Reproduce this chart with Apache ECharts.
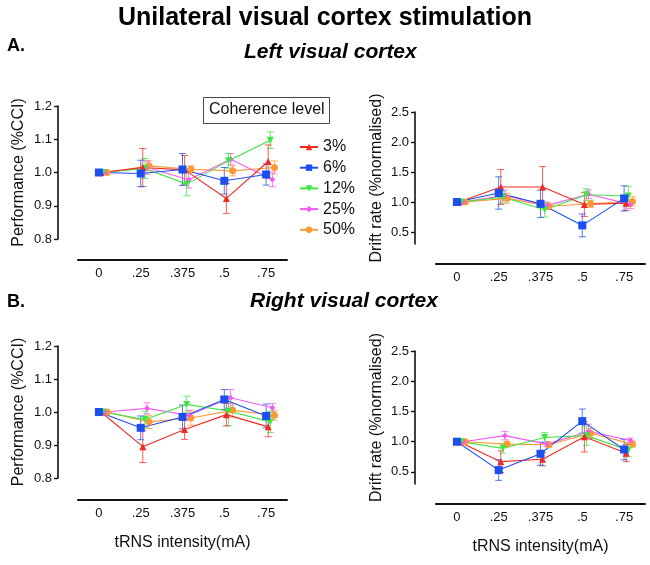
<!DOCTYPE html>
<html>
<head>
<meta charset="utf-8">
<script src="https://cdn.jsdelivr.net/npm/echarts@6/dist/echarts.min.js"></script>
<style>
html,body{margin:0;padding:0;background:#fff;}
#chart{width:650px;height:565px;}
</style>
</head>
<body>
<div id="chart"></div>
<script>
// ---------- DATA ----------
const categories = ['0', '.25', '.375', '.5', '.75'];
const seriesNames = ['3%', '6%', '12%', '25%', '50%'];
const perfTicks = [0.8, 0.9, 1.0, 1.1, 1.2];
const driftTicks = [0.5, 1.0, 1.5, 2.0, 2.5];

// A. Left visual cortex — Performance (%CCI)
const perfLeft3  = [1.0, 1.015, 1.008, 0.922, 1.033];
const perfLeft6  = [1.0, 0.997, 1.009, 0.975, 0.994];
const perfLeft12 = [1.0, 1.012, 0.965, 1.035, 1.097];
const perfLeft25 = [1.0, 1.015, 0.978, 1.040, 0.979];
const perfLeft50 = [1.0, 1.020, 1.010, 1.005, 1.015];
const perfLeftErr3  = [0, 0.057, 0.043, 0.045, 0.050];
const perfLeftErr6  = [0, 0.040, 0.048, 0.040, 0.032];
const perfLeftErr12 = [0, 0.030, 0.035, 0.022, 0.025];
const perfLeftErr25 = [0, 0.020, 0.025, 0.017, 0.022];
const perfLeftErr50 = [0, 0.015, 0.010, 0.015, 0.020];

// A. Left visual cortex — Drift rate (%normalised)
const driftLeft3  = [1.0, 1.25, 1.25, 0.96, 0.98];
const driftLeft6  = [1.0, 1.15, 0.97, 0.61, 1.06];
const driftLeft12 = [1.0, 1.08, 0.87, 1.12, 1.10];
const driftLeft25 = [1.0, 1.11, 0.94, 1.13, 0.96];
const driftLeft50 = [1.0, 1.06, 0.93, 0.97, 1.01];
const driftLeftErr3  = [0, 0.29, 0.34, 0.20, 0.12];
const driftLeftErr6  = [0, 0.27, 0.23, 0.19, 0.21];
const driftLeftErr12 = [0, 0.10, 0.12, 0.10, 0.16];
const driftLeftErr25 = [0, 0.09, 0.06, 0.07, 0.07];
const driftLeftErr50 = [0, 0.08, 0.05, 0.06, 0.08];

// B. Right visual cortex — Performance (%CCI)
const perfRight3  = [1.0, 0.895, 0.947, 0.992, 0.955];
const perfRight6  = [1.0, 0.952, 0.985, 1.038, 0.988];
const perfRight12 = [1.0, 0.977, 1.023, 1.003, 0.970];
const perfRight25 = [1.0, 1.011, 0.990, 1.043, 1.013];
const perfRight50 = [1.0, 0.970, 0.982, 1.005, 0.990];
const perfRightErr3  = [0, 0.048, 0.030, 0.034, 0.030];
const perfRightErr6  = [0, 0.036, 0.036, 0.030, 0.036];
const perfRightErr12 = [0, 0.025, 0.025, 0.045, 0.032];
const perfRightErr25 = [0, 0.017, 0.015, 0.025, 0.013];
const perfRightErr50 = [0, 0.020, 0.022, 0.020, 0.015];

// B. Right visual cortex — Drift rate (%normalised)
const driftRight3  = [1.0, 0.67, 0.71, 1.08, 0.81];
const driftRight6  = [1.0, 0.53, 0.80, 1.34, 0.87];
const driftRight12 = [1.0, 0.89, 1.07, 1.10, 0.86];
const driftRight25 = [1.0, 1.10, 0.96, 1.17, 1.02];
const driftRight50 = [1.0, 0.96, 0.95, 1.14, 0.96];
const driftRightErr3  = [0, 0.18, 0.11, 0.25, 0.14];
const driftRightErr6  = [0, 0.17, 0.19, 0.20, 0.17];
const driftRightErr12 = [0, 0.08, 0.08, 0.16, 0.11];
const driftRightErr25 = [0, 0.07, 0.04, 0.12, 0.04];
const driftRightErr50 = [0, 0.03, 0.04, 0.08, 0.05];

// ---------- STYLE ----------
const FONT = "'Liberation Sans', Arial, Helvetica, sans-serif";
const styles = {
  '3%':  {color: '#f02a22', symbol: 'triangle', size: 7, dx: 0.05},
  '6%':  {color: '#1d4ff0', symbol: 'rect', size: 8, dx: 0.0},
  '12%': {color: '#3ee640', symbol: 'path://M0,0 L10,0 L5,9 Z', size: 7, dx: 0.10},
  '25%': {color: '#f25af0', symbol: 'diamond', size: 6, dx: 0.15},
  '50%': {color: '#fa9a35', symbol: 'circle', size: 7, dx: 0.20}
};
const drawOrder = ['50%', '25%', '12%', '3%', '6%'];

const panels = [
  {grid: {left: 78, top: 106, width: 209, height: 133}, yMin: 0.8, yMax: 1.2, ticks: perfTicks,
   yName: 'Performance (%CCI)', yOffset: 20, xOffset: 21, xName: '', nameGap: 31,
   vals: [perfLeft3, perfLeft6, perfLeft12, perfLeft25, perfLeft50],
   errs: [perfLeftErr3, perfLeftErr6, perfLeftErr12, perfLeftErr25, perfLeftErr50]},
  {grid: {left: 436, top: 112, width: 209, height: 132}, yMin: 0.3, yMax: 2.5, ticks: driftTicks,
   yName: 'Drift rate (%normalised)', yOffset: 21, xOffset: 20, xName: '', nameGap: 30,
   vals: [driftLeft3, driftLeft6, driftLeft12, driftLeft25, driftLeft50],
   errs: [driftLeftErr3, driftLeftErr6, driftLeftErr12, driftLeftErr25, driftLeftErr50]},
  {grid: {left: 78, top: 346, width: 209, height: 132}, yMin: 0.8, yMax: 1.2, ticks: perfTicks,
   yName: 'Performance (%CCI)', yOffset: 20, xOffset: 22, xName: 'tRNS intensity(mA)', nameGap: 31,
   vals: [perfRight3, perfRight6, perfRight12, perfRight25, perfRight50],
   errs: [perfRightErr3, perfRightErr6, perfRightErr12, perfRightErr25, perfRightErr50]},
  {grid: {left: 436, top: 351, width: 209, height: 133}, yMin: 0.3, yMax: 2.5, ticks: driftTicks,
   yName: 'Drift rate (%normalised)', yOffset: 21, xOffset: 20, xName: 'tRNS intensity(mA)', nameGap: 30,
   vals: [driftRight3, driftRight6, driftRight12, driftRight25, driftRight50],
   errs: [driftRightErr3, driftRightErr6, driftRightErr12, driftRightErr25, driftRightErr50]}
];

const grids = [], xAxes = [], yAxes = [], series = [];
panels.forEach((p, pi) => {
  grids.push(p.grid);
  // visible category x axis
  xAxes.push({
    type: 'category', gridIndex: pi, data: categories, boundaryGap: true, offset: p.xOffset,
    axisLine: {onZero: false, lineStyle: {color: '#111', width: 2}},
    axisTick: {alignWithLabel: true, inside: true, length: 4, lineStyle: {color: '#111', width: 1.5}},
    axisLabel: {color: '#111', fontSize: 13, fontFamily: FONT, margin: 7},
    name: p.xName, nameLocation: 'middle', nameGap: 35,
    nameTextStyle: {color: '#111', fontSize: 16, fontFamily: FONT}
  });
  // hidden value x axis for dodged points
  xAxes.push({type: 'value', gridIndex: pi, min: -0.5, max: 4.5, show: false});
  yAxes.push({
    type: 'value', gridIndex: pi, min: p.yMin, max: p.yMax, offset: p.yOffset,
    splitLine: {show: false},
    axisLine: {show: true, onZero: false, lineStyle: {color: '#111', width: 1.6}},
    axisTick: {show: true, length: 4, customValues: p.ticks, lineStyle: {color: '#111', width: 1.4}},
    axisLabel: {color: '#111', fontSize: 13, fontFamily: FONT, margin: 6,
      customValues: p.ticks, formatter: v => v.toFixed(1)},
    name: p.yName, nameLocation: 'middle', nameGap: p.nameGap,
    nameTextStyle: {color: '#111', fontSize: 16, fontFamily: FONT}
  });
  const xIdx = pi * 2 + 1;
  drawOrder.forEach(name => {
    const si = seriesNames.indexOf(name);
    const st = styles[name];
    const vals = p.vals[si], errs = p.errs[si];
    series.push({
      type: 'custom', name: 'err' + name, xAxisIndex: xIdx, yAxisIndex: pi, clip: false, z: 2,
      data: vals.map((v, i) => [i + st.dx, v - errs[i], v + errs[i]]),
      renderItem: (params, api) => {
        const lo = api.coord([api.value(0), api.value(1)]);
        const hi = api.coord([api.value(0), api.value(2)]);
        const cw = 3.5;
        const style = {stroke: st.color, lineWidth: 1, opacity: 0.75};
        return {type: 'group', children: [
          {type: 'line', shape: {x1: lo[0], y1: lo[1], x2: hi[0], y2: hi[1]}, style},
          {type: 'line', shape: {x1: lo[0] - cw, y1: lo[1], x2: lo[0] + cw, y2: lo[1]}, style},
          {type: 'line', shape: {x1: hi[0] - cw, y1: hi[1], x2: hi[0] + cw, y2: hi[1]}, style}
        ]};
      },
      silent: true
    });
  });
  drawOrder.forEach(name => {
    const si = seriesNames.indexOf(name);
    const st = styles[name];
    series.push({
      type: 'line', name: name, xAxisIndex: xIdx, yAxisIndex: pi, clip: false, z: 3,
      data: p.vals[si].map((v, i) => [i + st.dx, v]),
      symbol: st.symbol, symbolSize: st.size, showSymbol: true,
      lineStyle: {color: st.color, width: 1.1},
      itemStyle: {color: st.color},
      animation: false
    });
  });
});

const chart = echarts.init(document.getElementById('chart'), null, {renderer: 'canvas'});
chart.setOption({
  animation: false,
  backgroundColor: '#ffffff',
  grid: grids,
  xAxis: xAxes,
  yAxis: yAxes,
  series: series,
  legend: {
    data: seriesNames, orient: 'vertical', left: 294, top: 134,
    itemWidth: 18, itemHeight: 8, itemGap: 4.7, selectedMode: false,
    textStyle: {color: '#111', fontSize: 16, fontFamily: FONT, lineHeight: 16}
  },
  graphic: [
    {type: 'text', left: 'center', top: 6, style: {text: 'Unilateral visual cortex stimulation',
      font: "bold 25px " + FONT, fill: '#000'}},
    {type: 'text', left: 7, top: 37, style: {text: 'A.', font: "bold 18px " + FONT, fill: '#000'}},
    {type: 'text', left: 244, top: 42, style: {text: 'Left visual cortex', font: "italic bold 21px " + FONT, fill: '#000'}},
    {type: 'text', left: 7, top: 293, style: {text: 'B.', font: "bold 18px " + FONT, fill: '#000'}},
    {type: 'text', left: 250, top: 291, style: {text: 'Right visual cortex', font: "italic bold 21px " + FONT, fill: '#000'}},
    {type: 'rect', left: 203, top: 97, shape: {width: 126, height: 26},
      style: {fill: '#fff', stroke: '#444', lineWidth: 1}, z: 10},
    {type: 'text', left: 209, top: 102, style: {text: 'Coherence level', font: "16px " + FONT, fill: '#111'}, z: 11}
  ]
});
</script>
</body>
</html>
